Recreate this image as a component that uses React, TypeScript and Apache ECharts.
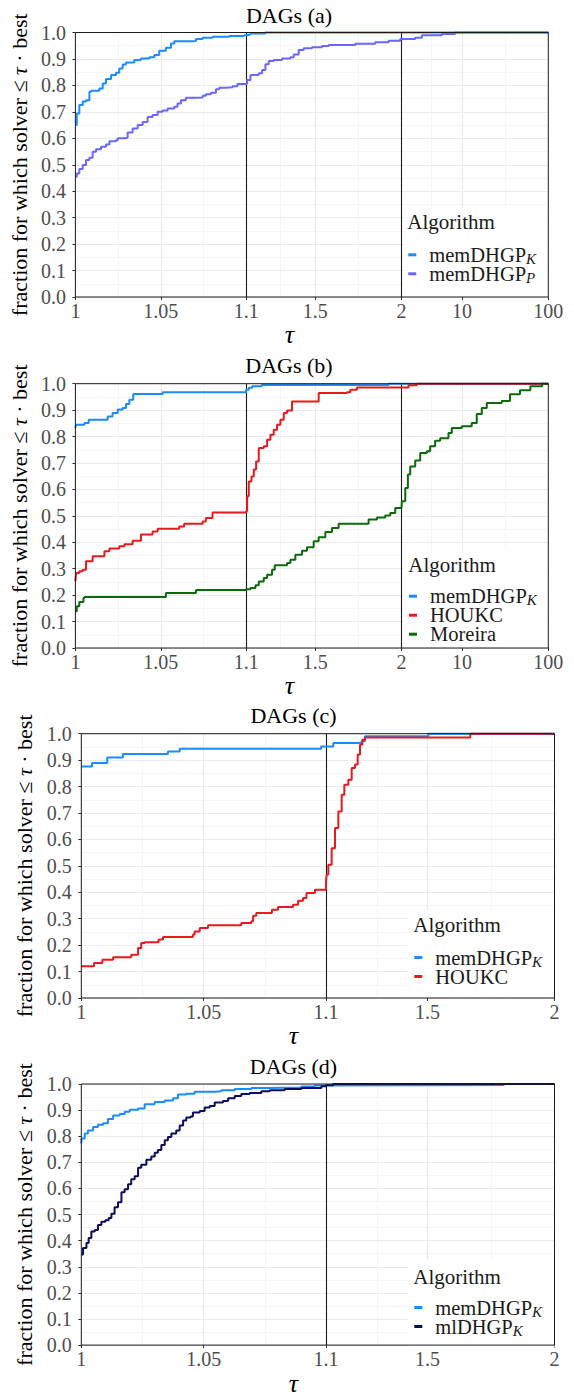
import React, { useEffect, useRef } from "react";
import * as echarts from "echarts";

const FONT = "Liberation Serif";

// ---------- axis ticks ----------
const TICKS_AB = [1, 1.05, 1.1, 1.5, 2, 10, 100];
const TICK_LABELS_AB = ["1", "1.05", "1.1", "1.5", "2", "10", "100"];
const TICKS_CD = [1, 1.05, 1.1, 1.5, 2];
const TICK_LABELS_CD = ["1", "1.05", "1.1", "1.5", "2"];
const MAJOR_GRID_AB = [1.05, 1.5, 10];
const MINOR_GRID_AB = [1.025, 1.075, 1.3, 1.75, 4.47, 31.6];
const BREAKS_AB = [1.1, 2];
const MAJOR_GRID_CD = [1.05, 1.5];
const MINOR_GRID_CD = [1.025, 1.075, 1.3, 1.75];
const BREAKS_CD = [1.1];

// ---------- data (tau, fraction) ----------
const A_MEMK: [number, number][] = [
  [1, 0.65], [1.0008, 0.694], [1.0023, 0.726], [1.0043, 0.739], [1.0062, 0.744], [1.0082, 0.776],
  [1.0092, 0.78], [1.014, 0.788], [1.016, 0.807], [1.0179, 0.824], [1.0209, 0.839], [1.0238, 0.848],
  [1.0257, 0.864], [1.0277, 0.879], [1.0296, 0.887], [1.0345, 0.896], [1.0384, 0.902], [1.0433, 0.906],
  [1.0462, 0.915], [1.0491, 0.931], [1.053, 0.942], [1.056, 0.958], [1.0579, 0.967], [1.0686, 0.968],
  [1.0706, 0.975], [1.0745, 0.98], [1.0803, 0.984], [1.0901, 0.987], [1.0988, 0.99], [1.104, 0.992],
  [1.125, 0.996], [1.21, 1.0], [100, 1.0],
];
const A_MEMP: [number, number][] = [
  [1, 0.455], [1.0008, 0.467], [1.0023, 0.484], [1.0043, 0.499], [1.0062, 0.518], [1.0082, 0.526],
  [1.0101, 0.549], [1.0121, 0.559], [1.015, 0.568], [1.0179, 0.577], [1.0199, 0.589], [1.0238, 0.593],
  [1.0248, 0.6], [1.0287, 0.602], [1.0306, 0.622], [1.0335, 0.637], [1.0365, 0.65], [1.0394, 0.662],
  [1.0423, 0.681], [1.0452, 0.688], [1.0482, 0.7], [1.0511, 0.705], [1.054, 0.713], [1.0579, 0.719],
  [1.0598, 0.732], [1.0618, 0.744], [1.0647, 0.753], [1.0706, 0.754], [1.0745, 0.761], [1.0764, 0.767],
  [1.0793, 0.772], [1.0823, 0.785], [1.0842, 0.791], [1.0881, 0.793], [1.092, 0.797], [1.0949, 0.805],
  [1.0998, 0.807], [1.1056, 0.82], [1.1249, 0.839], [1.173, 0.846], [1.1924, 0.858], [1.2116, 0.88],
  [1.2309, 0.892], [1.2598, 0.896], [1.308, 0.902], [1.3562, 0.906], [1.3755, 0.917], [1.4044, 0.934],
  [1.4333, 0.94], [1.4816, 0.944], [1.5394, 0.949], [1.578, 0.953], [1.7322, 0.957], [1.8478, 0.963],
  [1.925, 0.969], [1.9925, 0.975], [2.88, 0.98], [3.44, 0.99], [5.86, 0.994], [8.35, 1.0], [100, 1.0],
];
const B_MEMK: [number, number][] = [
  [1, 0.832], [1.0004, 0.845], [1.0053, 0.851], [1.0078, 0.864], [1.0189, 0.876], [1.0218, 0.889],
  [1.0248, 0.902], [1.0277, 0.908], [1.0296, 0.923], [1.0316, 0.939], [1.0339, 0.961], [1.0511, 0.968],
  [1.1, 0.977], [1.1155, 0.985], [1.135, 0.99], [1.19, 0.995], [1.925, 1.0], [100, 1.0],
];
const B_HOUKC: [number, number][] = [
  [1, 0.252], [1.0004, 0.284], [1.0023, 0.29], [1.0043, 0.296], [1.0062, 0.328], [1.0101, 0.347],
  [1.017, 0.366], [1.0199, 0.376], [1.0257, 0.385], [1.0287, 0.393], [1.0335, 0.406], [1.0384, 0.429],
  [1.0452, 0.441], [1.0482, 0.451], [1.0608, 0.46], [1.0637, 0.47], [1.0745, 0.479], [1.0764, 0.492],
  [1.0803, 0.513], [1.1, 0.517], [1.1056, 0.574], [1.1152, 0.63], [1.1307, 0.649], [1.1442, 0.675],
  [1.1577, 0.706], [1.1731, 0.757], [1.202, 0.763], [1.2213, 0.788], [1.2406, 0.807], [1.2598, 0.826],
  [1.2791, 0.845], [1.2984, 0.864], [1.3177, 0.889], [1.337, 0.899], [1.3659, 0.933], [1.5201, 0.965],
  [1.684, 0.968], [1.7033, 0.977], [1.7418, 0.986], [2.41, 0.994], [3.01, 1.0], [100, 1.0],
];
const B_MOREIRA: [number, number][] = [
  [1, 0.139], [1.0008, 0.158], [1.0023, 0.174], [1.0047, 0.189], [1.0053, 0.193], [1.053, 0.208],
  [1.0706, 0.219], [1.1, 0.222], [1.1249, 0.227], [1.1538, 0.237], [1.1731, 0.252], [1.202, 0.265],
  [1.2213, 0.277], [1.2502, 0.296], [1.2656, 0.313], [1.337, 0.322], [1.3562, 0.334], [1.3851, 0.353],
  [1.4237, 0.368], [1.4526, 0.381], [1.4912, 0.404], [1.5201, 0.419], [1.5587, 0.439], [1.5972, 0.454],
  [1.6358, 0.47], [1.8093, 0.486], [1.8575, 0.494], [1.9057, 0.501], [1.9347, 0.511], [1.9636, 0.53],
  [2.0, 0.532], [2.02, 0.555], [2.21, 0.605], [2.37, 0.656], [2.52, 0.687], [2.88, 0.709], [3.29, 0.738],
  [3.93, 0.744], [4.29, 0.763], [4.9, 0.784], [5.6, 0.794], [6.99, 0.813], [7.64, 0.832], [9.97, 0.839],
  [13.0, 0.851], [14.86, 0.885], [16.98, 0.908], [19.4, 0.927], [28.9, 0.935], [36, 0.96], [47, 0.975],
  [62, 0.99], [85, 1.0], [100, 1.0],
];
const C_MEMK: [number, number][] = [
  [1, 0.876], [1.0044, 0.889], [1.0106, 0.91], [1.017, 0.923], [1.0354, 0.933], [1.0402, 0.943],
  [1.098, 0.952], [1.1289, 0.965], [1.2405, 0.971], [1.2536, 0.99], [1.503, 1.0], [2, 1.0],
];
const C_HOUKC: [number, number][] = [
  [1, 0.12], [1.0052, 0.132], [1.0086, 0.145], [1.013, 0.154], [1.0204, 0.164], [1.0232, 0.189],
  [1.0245, 0.208], [1.0259, 0.211], [1.0316, 0.221], [1.0334, 0.231], [1.0456, 0.24], [1.0463, 0.252],
  [1.0484, 0.265], [1.0518, 0.275], [1.0654, 0.284], [1.0695, 0.29], [1.0702, 0.311], [1.0715, 0.322],
  [1.0779, 0.334], [1.0804, 0.344], [1.0865, 0.353], [1.0886, 0.368], [1.0906, 0.378], [1.092, 0.397],
  [1.0955, 0.41], [1.1, 0.44], [1.1026, 0.467], [1.1092, 0.504], [1.1223, 0.567], [1.1355, 0.643],
  [1.1486, 0.706], [1.1617, 0.769], [1.1722, 0.807], [1.188, 0.826], [1.2011, 0.87], [1.2142, 0.883],
  [1.2247, 0.921], [1.2339, 0.958], [1.2431, 0.977], [1.2536, 0.986], [1.6685, 1.0], [2, 1.0],
];
const D_MEMK: [number, number][] = [
  [1, 0.772], [1.0001, 0.791], [1.0014, 0.81], [1.0027, 0.822], [1.0048, 0.835], [1.0068, 0.844],
  [1.0089, 0.85], [1.0109, 0.866], [1.013, 0.879], [1.0157, 0.885], [1.0177, 0.894], [1.0198, 0.901],
  [1.0232, 0.906], [1.0259, 0.922], [1.03, 0.931], [1.0341, 0.937], [1.0375, 0.945], [1.0395, 0.96],
  [1.0429, 0.963], [1.0463, 0.97], [1.0545, 0.972], [1.0572, 0.976], [1.0627, 0.981], [1.0695, 0.985],
  [1.0763, 0.987], [1.0899, 0.99], [1.0954, 0.994], [1.1209, 0.996], [1.8, 1.0], [2, 1.0],
];
const D_MLK: [number, number][] = [
  [1, 0.347], [1.0007, 0.372], [1.0021, 0.391], [1.003, 0.41], [1.0041, 0.435], [1.0055, 0.441],
  [1.0068, 0.46], [1.0082, 0.472], [1.0098, 0.478], [1.0112, 0.487], [1.0123, 0.503], [1.0136, 0.528],
  [1.015, 0.547], [1.0164, 0.585], [1.0177, 0.597], [1.0191, 0.616], [1.0204, 0.635], [1.0218, 0.647],
  [1.0232, 0.679], [1.0245, 0.691], [1.0266, 0.71], [1.0286, 0.722], [1.03, 0.737], [1.0313, 0.747],
  [1.0327, 0.766], [1.0341, 0.785], [1.0354, 0.797], [1.0368, 0.81], [1.0388, 0.822], [1.0402, 0.841],
  [1.0416, 0.86], [1.0429, 0.872], [1.0447, 0.876], [1.0456, 0.891], [1.0484, 0.897], [1.0504, 0.91],
  [1.0525, 0.916], [1.0545, 0.929], [1.0579, 0.935], [1.06, 0.945], [1.0627, 0.954], [1.0654, 0.962],
  [1.0688, 0.966], [1.0736, 0.972], [1.077, 0.976], [1.0831, 0.981], [1.0899, 0.985], [1.0981, 0.991],
  [1.1001, 0.995], [1.1276, 1.0], [2, 1.0],
];

const COLORS: Record<string, string> = {
  memDHGP_K: "#1a8cff",
  memDHGP_P: "#6b66ff",
  HOUKC: "#e8191f",
  Moreira: "#0b6b0b",
  mlDHGP_K: "#0c0c5e",
};

// ---------- piecewise x scale (layout) ----------
type Seg = { a: number; b: number; len: number; log?: boolean };
const SEGS_AB: Seg[] = [
  { a: 1, b: 1.1, len: 171 },
  { a: 1.1, b: 2, len: 155.6 },
  { a: 2, b: 100, len: 147, log: true },
];
const SEGS_CD: Seg[] = [
  { a: 1, b: 1.1, len: 244.7 },
  { a: 1.1, b: 2, len: 228.5 },
];
function toU(t: number, segs: Seg[]): number {
  let off = 0;
  for (let i = 0; i < segs.length; i++) {
    const s = segs[i];
    if (t <= s.b || i === segs.length - 1) {
      const f = s.log ? Math.log(t / s.a) / Math.log(s.b / s.a) : (t - s.a) / (s.b - s.a);
      return off + f * s.len;
    }
    off += s.len;
  }
  return off;
}
const total = (segs: Seg[]) => segs.reduce((acc, s) => acc + s.len, 0);

const PANELS = [
  {
    title: "DAGs (a)", titleX: 289, titleY: 15,
    grid: { left: 74.7, top: 32.5, width: 473.6, height: 264.5 },
    segs: SEGS_AB, ticks: TICKS_AB, tickLabels: TICK_LABELS_AB,
    major: MAJOR_GRID_AB, minor: MINOR_GRID_AB, breaks: BREAKS_AB,
    series: [["memDHGP_K", A_MEMK], ["memDHGP_P", A_MEMP]] as [string, [number, number][]][],
    box: { x: 404, y: 208 }, algo: { x: 407.3, y: 221.7 }, legendLeft: 408.3, itemY: [253.3, 272.3],
    xNameGap: 24, xNamePad: 45, yNameGap: 39.7,
  },
  {
    title: "DAGs (b)", titleX: 289, titleY: 365,
    grid: { left: 74.7, top: 383.7, width: 473.6, height: 264.3 },
    segs: SEGS_AB, ticks: TICKS_AB, tickLabels: TICK_LABELS_AB,
    major: MAJOR_GRID_AB, minor: MINOR_GRID_AB, breaks: BREAKS_AB,
    series: [["memDHGP_K", B_MEMK], ["HOUKC", B_HOUKC], ["Moreira", B_MOREIRA]] as [string, [number, number][]][],
    box: { x: 403, y: 550 }, algo: { x: 408.3, y: 564.7 }, legendLeft: 409, itemY: [594.7, 613.7, 632.7],
    xNameGap: 23, xNamePad: 45, yNameGap: 39.7,
  },
  {
    title: "DAGs (c)", titleX: 293.5, titleY: 715,
    grid: { left: 81.3, top: 733.7, width: 473.2, height: 264.3 },
    segs: SEGS_CD, ticks: TICKS_CD, tickLabels: TICK_LABELS_CD,
    major: MAJOR_GRID_CD, minor: MINOR_GRID_CD, breaks: BREAKS_CD,
    series: [["memDHGP_K", C_MEMK], ["HOUKC", C_HOUKC]] as [string, [number, number][]][],
    box: { x: 408.3, y: 910 }, algo: { x: 413.3, y: 925 }, legendLeft: 414.3, itemY: [956, 975],
    xNameGap: 23, xNamePad: 49, yNameGap: 41.3,
  },
  {
    title: "DAGs (d)", titleX: 293.5, titleY: 1066,
    grid: { left: 81.3, top: 1084, width: 473.2, height: 266.5 },
    segs: SEGS_CD, ticks: TICKS_CD, tickLabels: TICK_LABELS_CD,
    major: MAJOR_GRID_CD, minor: MINOR_GRID_CD, breaks: BREAKS_CD,
    series: [["memDHGP_K", D_MEMK], ["mlDHGP_K", D_MLK]] as [string, [number, number][]][],
    box: { x: 408.3, y: 1260 }, algo: { x: 413.3, y: 1276.7 }, legendLeft: 414.3, itemY: [1306, 1325],
    xNameGap: 22, xNamePad: 49, yNameGap: 41.3,
  },
];

const ROW_H = 18;
const LEGEND_RICH = {
  m: { fontFamily: FONT, fontSize: 20.5, color: "#1a1a1a", height: ROW_H, lineHeight: ROW_H, padding: [0, 0, 0, 8] },
  s: {
    fontFamily: FONT, fontSize: 15, fontStyle: "italic", color: "#1a1a1a",
    height: 10, lineHeight: ROW_H, padding: [8, 0, 0, 0], verticalAlign: "bottom",
  },
};

function buildOption() {
  const grid: any[] = [];
  const xAxis: any[] = [];
  const yAxis: any[] = [];
  const series: any[] = [];
  const legend: any[] = [];
  const title: any[] = [];
  const graphicEls: any[] = [];

  PANELS.forEach((p, i) => {
    const segs = p.segs;
    const tickUs = p.ticks.map((t) => toU(t, segs));
    grid.push({
      ...p.grid, show: true, borderColor: "#1a1a1a", borderWidth: 1,
      backgroundColor: "transparent", z: 4, containLabel: false,
    });
    xAxis.push({
      type: "value", gridIndex: i, min: 0, max: total(segs),
      axisLine: { show: false },
      axisTick: { show: true, customValues: tickUs, length: 3, lineStyle: { color: "#333", width: 1 } },
      axisLabel: {
        show: true, customValues: tickUs, hideOverlap: false,
        formatter: (v: number) => {
          let best = 0;
          tickUs.forEach((u, k) => { if (Math.abs(u - v) < Math.abs(tickUs[best] - v)) best = k; });
          return p.tickLabels[best];
        },
        color: "#4d4d4d", fontSize: 20, fontFamily: FONT, margin: 4,
      },
      splitLine: { show: false },
      name: "τ", nameLocation: "middle", nameGap: p.xNameGap,
      nameTextStyle: {
        fontFamily: FONT, fontStyle: "italic", fontSize: 26, color: "#000",
        padding: [0, p.xNamePad, 0, 0],
      },
    });
    yAxis.push({
      type: "value", gridIndex: i, min: 0, max: 1, interval: 0.1,
      axisLine: { show: false },
      axisTick: { show: true, length: 3, lineStyle: { color: "#333", width: 1 } },
      axisLabel: {
        formatter: (v: number) => v.toFixed(1),
        color: "#4d4d4d", fontSize: 20, fontFamily: FONT, margin: 9.5,
      },
      splitLine: { show: true, lineStyle: { color: "#ebebeb", width: 1.2 } },
      minorTick: { show: false, splitNumber: 2 },
      minorSplitLine: { show: true, lineStyle: { color: "#f2f2f2", width: 0.8 } },
      name: "fraction for which solver ≤ {t|τ} · best",
      nameLocation: "middle", nameGap: p.yNameGap, nameRotate: 90,
      nameTextStyle: {
        fontFamily: FONT, fontSize: 22, color: "#000",
        rich: { t: { fontFamily: FONT, fontSize: 22, fontStyle: "italic", color: "#000" } },
      },
    });

    // vertical grid lines + segment separators
    const mk: any[] = [];
    p.minor.forEach((t) => mk.push({ xAxis: toU(t, segs), lineStyle: { color: "#f2f2f2", width: 0.8, type: "solid" } }));
    p.major.forEach((t) => mk.push({ xAxis: toU(t, segs), lineStyle: { color: "#ebebeb", width: 1.2, type: "solid" } }));
    p.breaks.forEach((t) => mk.push({ xAxis: toU(t, segs), lineStyle: { color: "#1a1a1a", width: 1.1, type: "solid" } }));
    series.push({
      type: "line", name: "_grid" + i, xAxisIndex: i, yAxisIndex: i, data: [],
      silent: true, z: 1,
      markLine: {
        silent: true, z: 1, symbol: ["none", "none"], label: { show: false },
        lineStyle: { type: "solid" }, emphasis: { disabled: true }, animation: false,
        data: mk,
      },
    });

    p.series.forEach(([name, pts]) => {
      series.push({
        type: "line", name, xAxisIndex: i, yAxisIndex: i,
        data: pts.map(([t, f]) => [toU(t, segs), f]),
        step: "end", symbol: "none", showSymbol: false, clip: false,
        color: COLORS[name], lineStyle: { width: 2, color: COLORS[name] },
        z: 3, silent: true,
      });
    });

    // legend background box
    const gx2 = p.grid.left + p.grid.width;
    const gy2 = p.grid.top + p.grid.height;
    graphicEls.push({
      type: "rect", z: 2, silent: true,
      shape: { x: p.box.x, y: p.box.y, width: gx2 - p.box.x, height: gy2 - p.box.y },
      style: { fill: "#ffffff" },
    });

    title.push({
      text: p.title, left: p.titleX, top: p.titleY, textAlign: "center", textVerticalAlign: "middle",
      padding: 0, textStyle: { fontFamily: FONT, fontSize: 22, fontWeight: "normal", color: "#000" },
    });
    title.push({
      text: "Algorithm", left: p.algo.x, top: p.algo.y, textAlign: "left", textVerticalAlign: "middle",
      padding: 0, textStyle: { fontFamily: FONT, fontSize: 21, fontWeight: "normal", color: "#1a1a1a" },
    });

    // one legend component per item so that each row sits at its measured height
    p.series.forEach(([name], k) => {
      legend.push({
        data: [name], orient: "vertical", left: p.legendLeft,
        top: p.itemY[k] - ROW_H / 2,
        itemGap: 0, itemWidth: 8, itemHeight: 3, icon: "rect", padding: 0, selectedMode: false, z: 5,
        itemStyle: { borderWidth: 0 },
        formatter: (n: string) => {
          const [b, s] = n.split("_");
          return s ? `{m|${b}}{s|${s}}` : `{m|${b}}`;
        },
        textStyle: { fontFamily: FONT, rich: LEGEND_RICH },
      });
    });
  });

  return {
    animation: false,
    backgroundColor: "#ffffff",
    textStyle: { fontFamily: FONT },
    grid, xAxis, yAxis, series, legend, title,
    graphic: { elements: graphicEls },
  };
}

export default function App() {
  const ref = useRef<HTMLDivElement>(null);
  useEffect(() => {
    document.body.style.margin = "0";
    if (!ref.current) return;
    const chart = echarts.init(ref.current, null, { renderer: "svg", width: 574, height: 1397 });
    chart.setOption(buildOption() as any);
    return () => chart.dispose();
  }, []);
  return <div ref={ref} style={{ width: 574, height: 1397 }} />;
}
